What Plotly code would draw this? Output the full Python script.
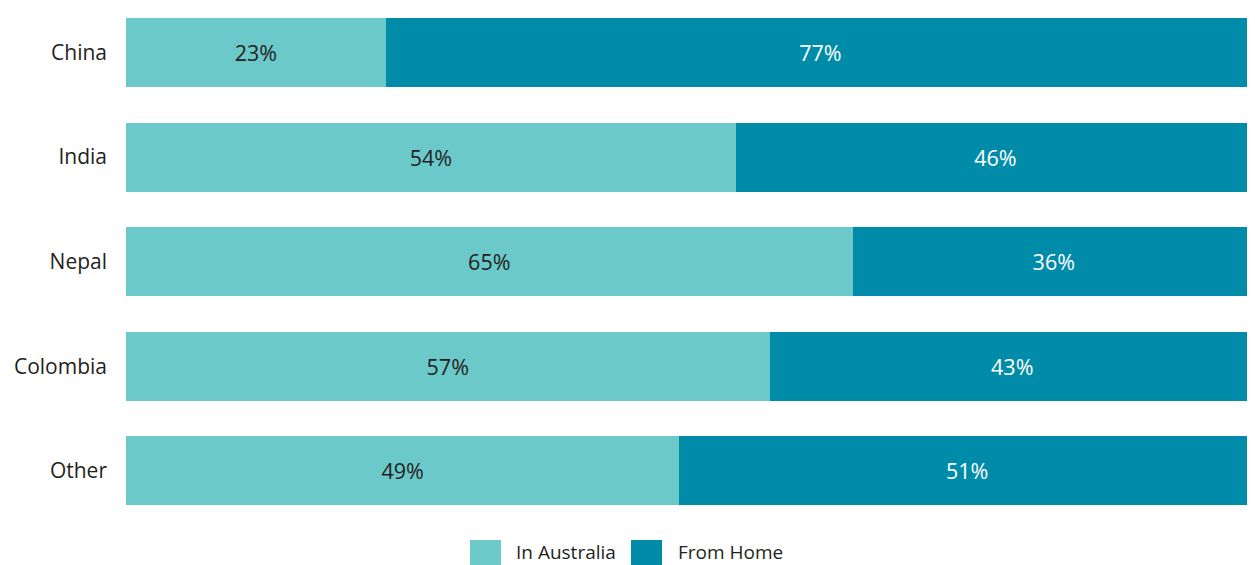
import plotly.graph_objects as go

categories = ["China", "India", "Nepal", "Colombia", "Other"]
in_australia = [23, 54, 65, 57, 49]
from_home = [77, 46, 36, 43, 51]
series_names = ["In Australia", "From Home"]
colors = ["#6CC9C9", "#008CA8"]
text_colors = ["#231F20", "#FFFFFF"]

FONT = "Open Sans"

# page body has an 8px margin; the figure starts at (8, 8) in the window
W, H = 1247, 557
ML, MR, MT, MB = 118, 0, 0, 42

fig = go.Figure()
for name, vals, col, tcol in zip(series_names, [in_australia, from_home], colors, text_colors):
    fig.add_trace(go.Bar(
        y=categories, x=vals, name=name, orientation="h",
        marker=dict(color=col, line=dict(width=0)),
        text=[f"{v}%" for v in vals], textposition="inside",
        insidetextanchor="middle",
        textfont=dict(family=FONT, size=21.5, color=tcol),
        showlegend=False, hoverinfo="skip",
    ))

fig.update_layout(
    barmode="stack", barnorm="percent", bargap=0.34,
    width=W, height=H, autosize=False,
    margin=dict(l=ML, r=MR, t=MT, b=MB, pad=0),
    paper_bgcolor="white", plot_bgcolor="white",
    font=dict(family=FONT, color="#231F20"),
    uniformtext=dict(minsize=20, mode="show"),
)
fig.update_xaxes(range=[0, 100], visible=False, showgrid=False, zeroline=False)
fig.update_yaxes(range=[4.5, -0.426], showgrid=False, zeroline=False, showline=False,
                 ticks="", ticklabelstandoff=18,
                 tickfont=dict(family=FONT, size=21, color="#231F20"))

# custom legend (positions in screen pixels of the reference)
plot_w = W - ML - MR
plot_h = H - MT - MB
def px_x(px):
    return (px - 8 - ML) / plot_w
def px_y(py):
    return (plot_h - (py - 8 - MT)) / plot_h

legend_items = [(470, 514), (631, 676)]
for (sx, tx), name, col in zip(legend_items, series_names, colors):
    fig.add_shape(type="rect", xref="paper", yref="paper",
                  x0=px_x(sx), x1=px_x(sx + 31), y0=px_y(540), y1=px_y(570),
                  fillcolor=col, line=dict(width=0))
    fig.add_annotation(xref="paper", yref="paper", x=px_x(tx), y=px_y(552),
                       text=name, showarrow=False, xanchor="left", yanchor="middle",
                       font=dict(family=FONT, size=19, color="#231F20"))

fig.write_html("out.html", config={"responsive": False})
